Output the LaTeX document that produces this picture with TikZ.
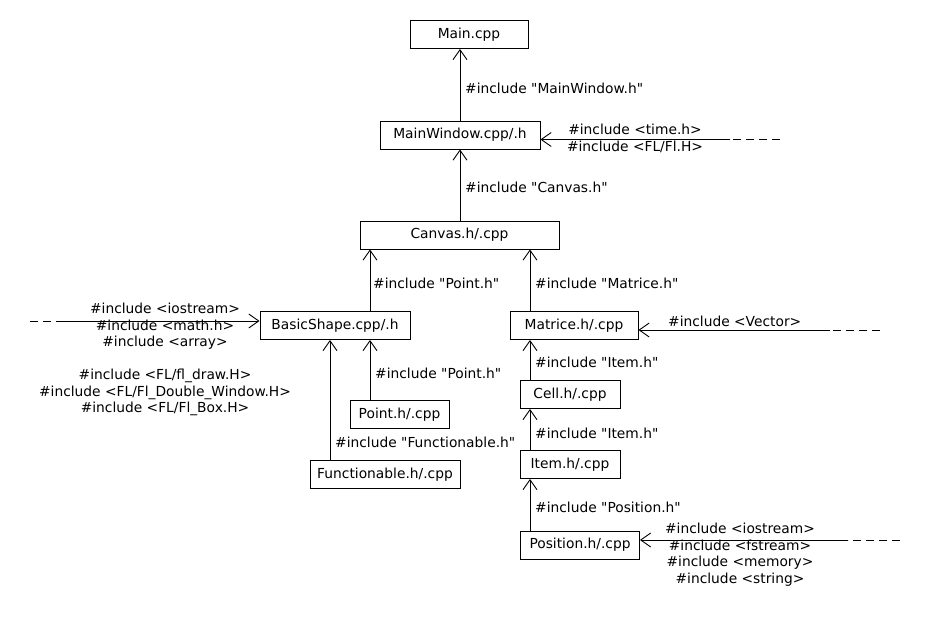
\documentclass[tikz,border=0pt]{standalone}
\usepackage{fontspec}
\setmainfont{DejaVu Sans}[Ligatures=TeXOff]
\usetikzlibrary{arrows.meta}
\begin{document}
\begin{tikzpicture}[x=1pt,y=-1pt,
  every node/.style={font=\fontsize{13.8}{16.5}\selectfont},
  box/.style={draw,line width=0.9pt,minimum height=28pt,inner sep=0pt},
  lbl/.style={anchor=west,inner sep=0pt},
  blk/.style={align=center,inner sep=0pt},
  dep/.style={line width=0.9pt,-{Straight Barb[length=10pt,width=14pt,line width=0.9pt]}},
  ext/.style={line width=0.9pt,dash pattern=on 8pt off 5pt}]
\useasboundingbox (0,0) rectangle (940,620);

% source files
\node[box,minimum width=118pt] (main)   at (469,34.5)  {Main.cpp};
\node[box,minimum width=160pt] (mwin)   at (460,135)   {MainWindow.cpp/.h};
\node[box,minimum width=199pt] (canvas) at (459.5,235) {Canvas.h/.cpp};
\node[box,minimum width=150pt] (shape)  at (335,325.5) {BasicShape.cpp/.h};
\node[box,minimum width=128pt] (matr)   at (574,325.5) {Matrice.h/.cpp};
\node[box,minimum width=99pt]  (point)  at (399.5,414.5) {Point.h/.cpp};
\node[box,minimum width=150pt] (func)   at (385,474.5) {Functionable.h/.cpp};
\node[box,minimum width=100pt] (cell)   at (570,394.5) {Cell.h/.cpp};
\node[box,minimum width=100pt] (item)   at (570,464.5) {Item.h/.cpp};
\node[box,minimum width=119pt] (pos)    at (580,545)   {Position.h/.cpp};

% project includes
\draw[dep] (mwin.north -| 460,0) -- (main.south -| 460,0);
\node[lbl] (l1) at (465,88) {\#include "MainWindow.h"};
\draw[dep] (canvas.north -| 460,0) -- (mwin.south -| 460,0);
\node[lbl] (l2) at (465,187) {\#include "Canvas.h"};
\draw[dep] (shape.north -| 370,0) -- (canvas.south -| 370,0);
\node[lbl] (l3) at (373,283) {\#include "Point.h"};
\draw[dep] (matr.north -| 530,0) -- (canvas.south -| 530,0);
\node[lbl] (l4) at (535,283) {\#include "Matrice.h"};
\draw[dep] (point.north -| 370,0) -- (shape.south -| 370,0);
\node[lbl] (l5) at (375,373) {\#include "Point.h"};
\draw[dep] (func.north -| 330,0) -- (shape.south -| 330,0);
\node[lbl] (l6) at (335,442) {\#include "Functionable.h"};
\draw[dep] (cell.north -| 530,0) -- (matr.south -| 530,0);
\node[lbl] (l7) at (535,362) {\#include "Item.h"};
\draw[dep] (item.north -| 530,0) -- (cell.south -| 530,0);
\node[lbl] (l8) at (535,433) {\#include "Item.h"};
\draw[dep] (pos.north -| 530,0) -- (item.south -| 530,0);
\node[lbl] (l9) at (535,507) {\#include "Position.h"};

% system and library includes
\coordinate (tA) at (780,139.5);
\coordinate (tB) at (730,139.5);
\draw[ext] (tA) -- (tB);
\draw[dep] (tB) -- (mwin.east |- tB);
\node[blk] (t1) at (635,138.5) {\#include <time.h>\\\#include <FL/Fl.H>};

\coordinate (bA) at (30,321);
\coordinate (bB) at (64,321);
\draw[ext] (bB) -- (bA);
\draw[dep] (bB) -- (shape.west |- bB);
\node[blk] (b1) at (165,326.5) {\#include <iostream>\\\#include <math.h>\\\#include <array>};
\node[blk] (b2) at (165,392.5) {\#include <FL/fl\_draw.H>\\\#include <FL/Fl\_Double\_Window.H>\\\#include <FL/Fl\_Box.H>};

\coordinate (vA) at (880,330);
\coordinate (vB) at (830,330);
\draw[ext] (vA) -- (vB);
\draw[dep] (vB) -- (matr.east |- vB);
\node[lbl] (v1) at (668,321) {\#include <Vector>};

\coordinate (pA) at (900,540);
\coordinate (pB) at (848,540);
\draw[ext] (pA) -- (pB);
\draw[dep] (pB) -- (pos.east |- pB);
\node[blk] (p1) at (740,554.5) {\#include <iostream>\\\#include <fstream>\\\#include <memory>\\\#include <string>};
\end{tikzpicture}
\end{document}
